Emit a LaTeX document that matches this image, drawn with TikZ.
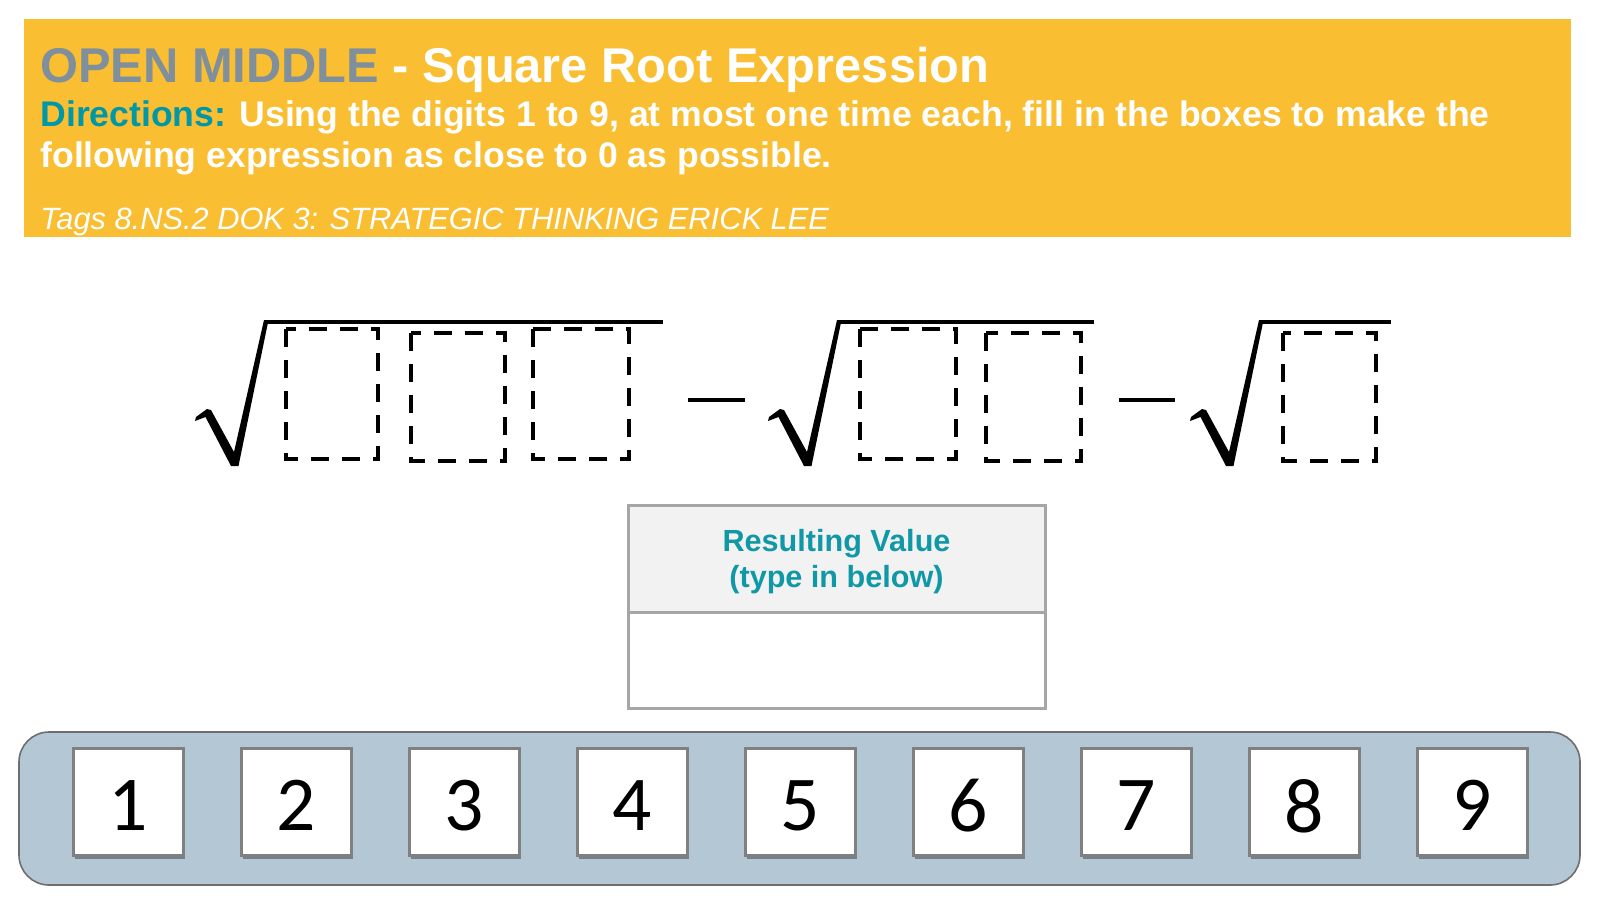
\documentclass[tikz,border=0pt]{standalone}
\usepackage{fontspec}
\setmainfont{Liberation Sans}
\newfontfamily\digitfont{Carlito}
\usetikzlibrary{shadows}
\definecolor{omorange}{HTML}{F9BE32}
\definecolor{omgray}{HTML}{7F8F9B}
\definecolor{omteal}{HTML}{0097A7}
\definecolor{tblteal}{HTML}{1098A6}
\definecolor{tblgray}{HTML}{A6A6A6}
\definecolor{tblfill}{HTML}{F2F2F2}
\definecolor{trayblue}{HTML}{B4C7D5}
\definecolor{traygray}{HTML}{6E6E6E}
\definecolor{tilegray}{HTML}{808080}
\tikzset{
  hdrtext/.style={anchor=base west, inner sep=0pt, text=white},
  dashbox/.style={draw=black, line width=2pt, dash pattern=on 9pt off 6.5pt},
  radline/.style={draw=black, line width=2pt},
  minusline/.style={draw=black, line width=2pt},
  tile/.style={draw=tilegray, fill=white, line width=1.5pt, minimum width=55pt, minimum height=53.5pt, inner sep=0pt,
    font=\digitfont\fontsize{38.8}{40}\selectfont,
    drop shadow={shadow xshift=1pt, shadow yshift=-2.2pt, opacity=0.35, fill=black}},
  tbltext/.style={anchor=base, inner sep=0pt, text=tblteal, font=\fontsize{15.3}{18}\selectfont\bfseries},
}
\newcommand{\radsign}[2]{%
  \begin{scope}[shift={(#1,0)}]
    \fill[black] (195,421) -- (196,417) -- (207,409) -- (211,410) -- (234,452) -- (264,320) -- (268.5,320)
      -- (238.5,466) -- (231,466) -- (205.5,417) -- cycle;
    \draw[radline] (265,321.7) -- (#2,321.7);
  \end{scope}}
\begin{document}
\begin{tikzpicture}[x=0.5pt,y=-0.5pt]
\useasboundingbox (0,0) rectangle (1600,900);
\fill[white] (0,0) rectangle (1600,900);
% header
\fill[omorange] (24,19) rectangle (1571,237);
\node[hdrtext, font=\fontsize{24.4}{28}\selectfont\bfseries] (title) at (40,82)
  {\textcolor{omgray}{OPEN MIDDLE} - Square Root Expression};
\node[hdrtext, font=\fontsize{17.8}{20}\selectfont\bfseries] (dir1) at (40,126)
  {\textcolor{omteal}{Directions:} Using the digits 1 to 9, at most one time each, fill in the boxes to make the};
\node[hdrtext, font=\fontsize{17.8}{20}\selectfont\bfseries] (dir2) at (40,167)
  {following expression as close to 0 as possible.};
\node[hdrtext, font=\fontsize{15.4}{18}\selectfont\itshape] (tags) at (40,229)
  {Tags 8.NS.2 DOK 3: STRATEGIC THINKING ERICK LEE};
% expression
\radsign{0}{663}
\radsign{573}{521}
\radsign{995}{396}
\draw[dashbox] (286,329) rectangle (378,459);
\draw[dashbox] (411,333) rectangle (505,461);
\draw[dashbox] (533,329) rectangle (629,459);
\draw[dashbox] (860,329) rectangle (956,459);
\draw[dashbox] (986,333) rectangle (1081,461);
\draw[dashbox] (1283,333) rectangle (1376,461);
\draw[minusline] (688,400) -- (745,400);
\draw[minusline] (1119,400) -- (1175,400);
% table
\draw[draw=tblgray, fill=tblfill, line width=1.5pt] (628,505) rectangle (1045,612.5);
\draw[draw=tblgray, fill=white, line width=1.5pt] (628,612.5) rectangle (1045,708);
\node[tbltext] (res1) at (836.5,551) {Resulting Value};
\node[tbltext] (res2) at (836.5,587) {(type in below)};
% tray
\draw[fill=trayblue, draw=traygray, line width=0.8pt, rounded corners=15pt] (19,732) rectangle (1580,885);
\foreach \i in {1,...,9}{
  \node[tile] (t\i) at ({128+(\i-1)*168},801.5) {\raisebox{-2pt}[\height][0pt]{\i}};
}
\end{tikzpicture}
\end{document}
